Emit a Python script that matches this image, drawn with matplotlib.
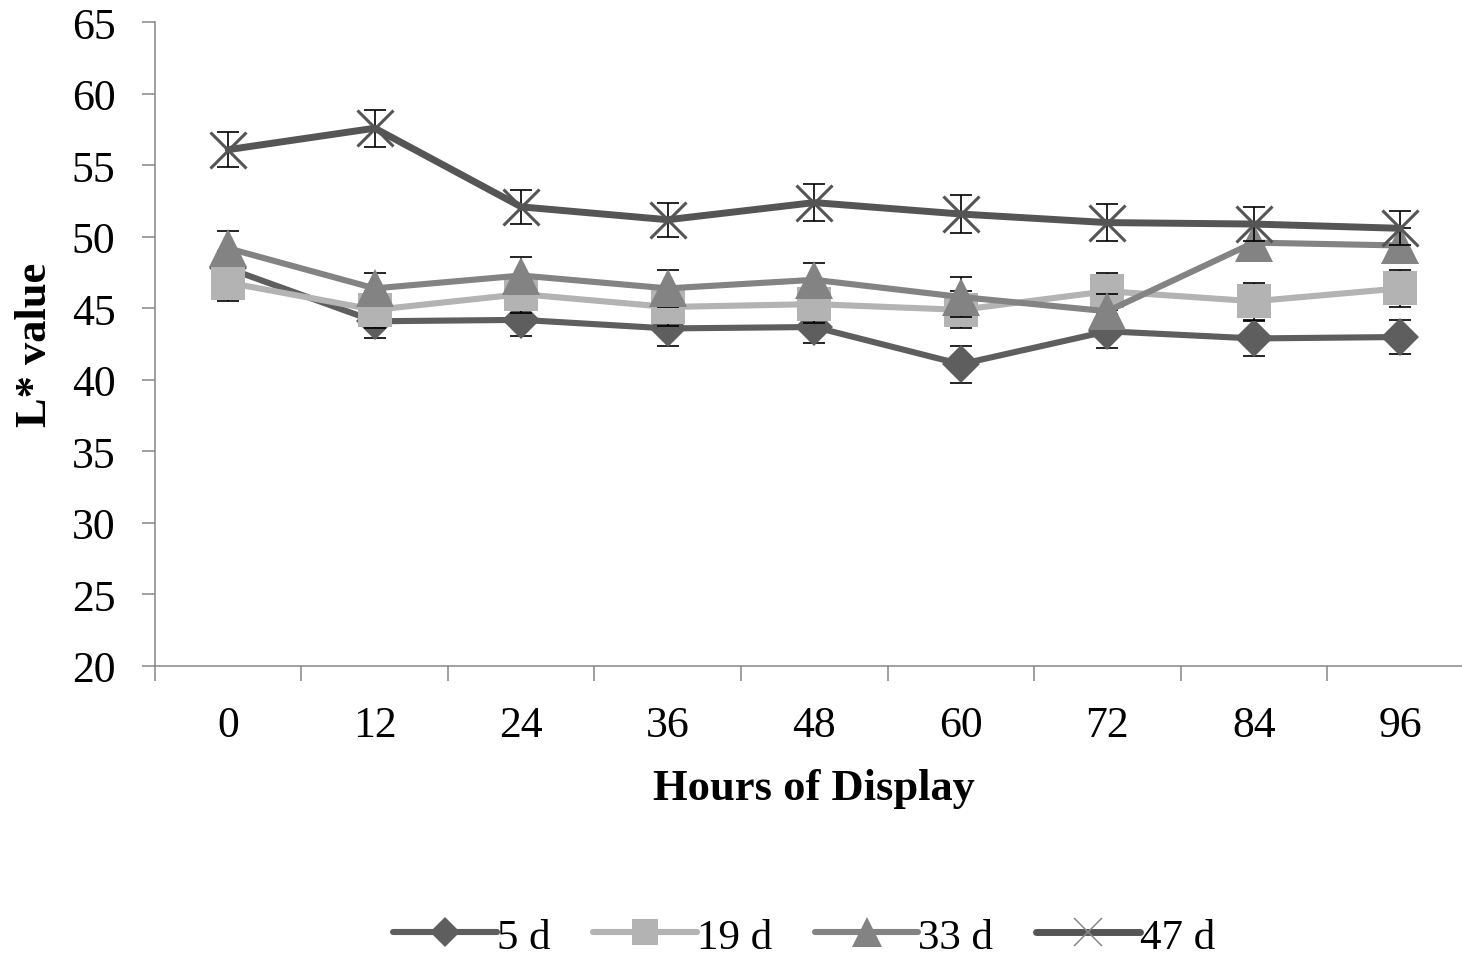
import matplotlib
matplotlib.use("Agg")
import matplotlib.pyplot as plt
from matplotlib.lines import Line2D
from matplotlib.ticker import FixedLocator

plt.rcParams['font.family'] = ['Liberation Serif', 'DejaVu Serif']

# Hours of retail display
hours = [0, 12, 24, 36, 48, 60, 72, 84, 96]

# Mean L* values for each ageing period
l_5d = [47.8, 44.1, 44.2, 43.6, 43.7, 41.1, 43.4, 42.9, 43.0]
l_19d = [46.8, 44.9, 46.0, 45.1, 45.3, 44.9, 46.2, 45.5, 46.4]
l_33d = [49.2, 46.4, 47.3, 46.4, 47.0, 45.8, 44.8, 49.6, 49.4]
l_47d = [56.1, 57.6, 52.1, 51.2, 52.4, 51.6, 51.0, 50.9, 50.6]

# Standard errors
se_5d = [1.2, 1.2, 1.1, 1.2, 1.1, 1.3, 1.2, 1.2, 1.2]
se_19d = [1.3, 1.3, 1.3, 1.3, 1.3, 1.3, 1.3, 1.3, 1.3]
se_33d = [1.2, 1.1, 1.3, 1.3, 1.2, 1.4, 1.2, 1.2, 1.2]
se_47d = [1.2, 1.3, 1.2, 1.2, 1.3, 1.3, 1.3, 1.2, 1.2]

series_labels = ['5 d', '19 d', '33 d', '47 d']

fig = plt.figure(figsize=(14.62, 9.62), dpi=100)
ax = fig.add_axes([0.106, 0.3067, 0.9019, 0.669])

xpos = list(range(len(hours)))

styles = [
    dict(values=l_5d, err=se_5d, color='#5e5e5e', marker='D', ms=19, lw=4.4, mew=0),
    dict(values=l_19d, err=se_19d, color='#b3b3b3', marker='s', ms=24, lw=4.4, mew=0),
    dict(values=l_33d, err=se_33d, color='#838383', marker='^', ms=27, lw=4.4, mew=0),
    dict(values=l_47d, err=se_47d, color='#555555', marker='x', ms=26, lw=5.0, mew=2.2),
]

handles = []
for i, (st, lab) in enumerate(zip(styles, series_labels)):
    z = 2 + i
    ax.errorbar(xpos, st['values'], yerr=st['err'], fmt='none', ecolor='black',
                elinewidth=1.2, capsize=8, capthick=1.2, zorder=z + 0.1)
    ax.plot(xpos, st['values'], color=st['color'], lw=st['lw'],
            marker=st['marker'], ms=st['ms'], mew=st['mew'],
            mec=st['color'], mfc=st['color'], zorder=z + 0.2,
            solid_joinstyle='round', solid_capstyle='round')
    # smaller markers in the legend keys
    is_cross = st['marker'] == 'x'
    handles.append(Line2D([], [], color=st['color'], lw=st['lw'],
                          marker=st['marker'], ms=st['ms'] * 0.8,
                          mew=1.1 if is_cross else 0,
                          mec='#8a8a8a' if is_cross else st['color'],
                          mfc=st['color'], solid_capstyle='round',
                          label=lab))

ax.set_xlim(-0.5, len(hours) - 0.5)
ax.set_ylim(20, 65)
ax.set_yticks(range(20, 66, 5))

ax.set_xticks(xpos)
ax.set_xticklabels([str(h) for h in hours])
ax.xaxis.set_minor_locator(FixedLocator([p - 0.5 for p in range(len(hours) + 1)]))
ax.tick_params(axis='x', which='major', length=0, pad=28, labelsize=31.5)
ax.tick_params(axis='x', which='minor', length=11, width=1.1, color='#868686',
               direction='out')
ax.tick_params(axis='y', which='major', length=9.5, width=1.1, color='#868686',
               direction='out', pad=19, labelsize=31.5)

for side in ('top', 'right'):
    ax.spines[side].set_visible(False)
for side in ('left', 'bottom'):
    ax.spines[side].set_color('#868686')
    ax.spines[side].set_linewidth(1.1)

fig.text(0.557, 1 - 789 / 962, 'Hours of Display', ha='center', va='center',
         fontsize=32, fontweight='bold')
fig.text(0.024, 1 - 345 / 962, 'L* value', ha='center', va='center',
         rotation=90, fontsize=32, fontweight='bold')

fig.legend(handles=handles, loc='center', bbox_to_anchor=(0.55, 0.025), ncol=4,
           frameon=False, fontsize=31, handlelength=2.4, handletextpad=0.0,
           columnspacing=1.0, borderpad=0.1)

fig.savefig('out.png', dpi=100)
